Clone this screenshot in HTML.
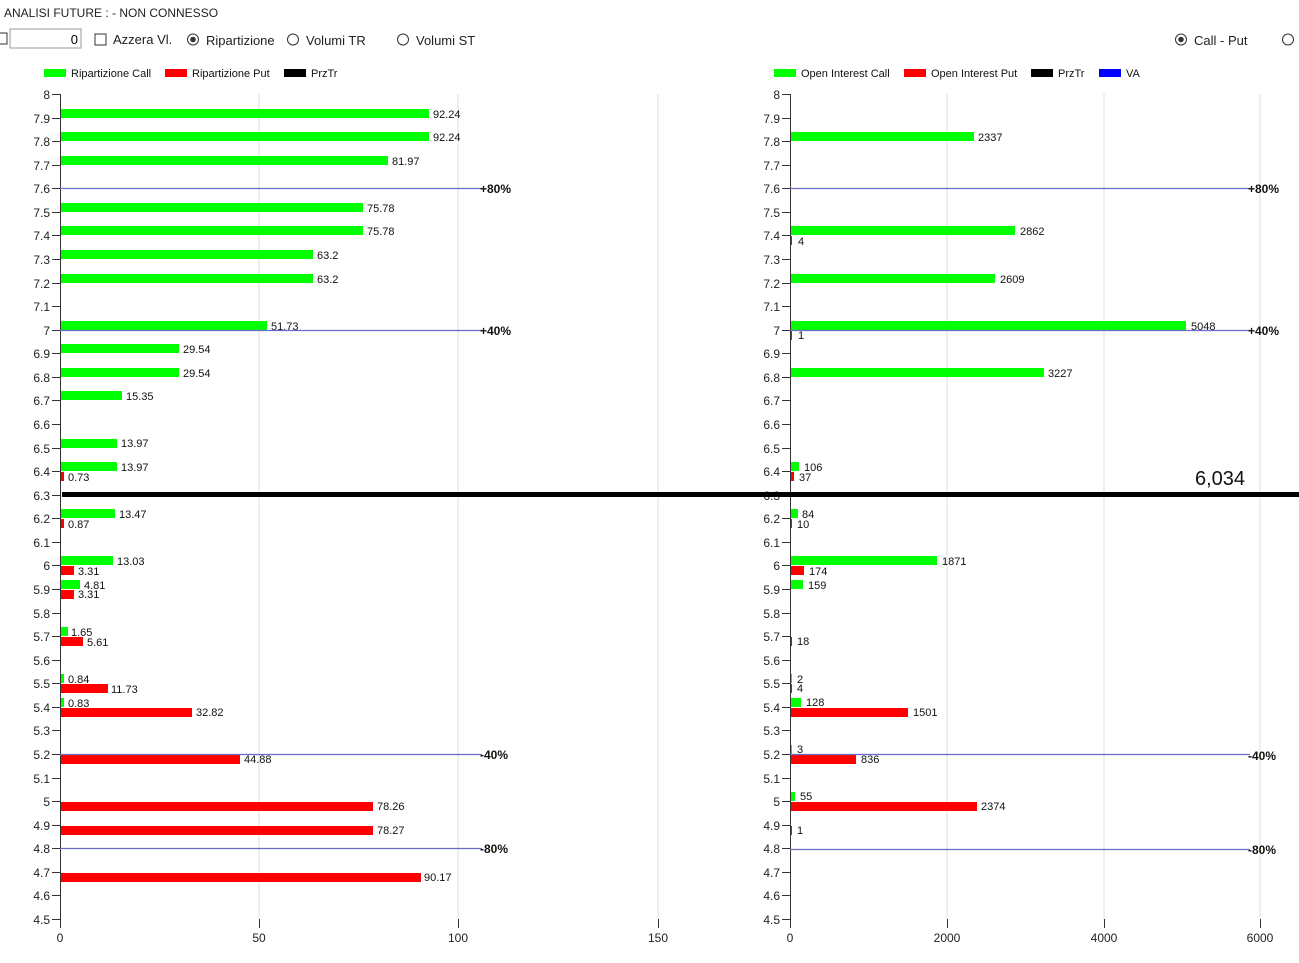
<!DOCTYPE html>
<html><head><meta charset="utf-8"><style>
body{margin:0;background:#fff;width:1299px;height:958px;overflow:hidden;font-family:"Liberation Sans",sans-serif}
svg text{font-family:"Liberation Sans",sans-serif}
</style></head><body>
<svg width="1299" height="958" xmlns="http://www.w3.org/2000/svg">
<rect width="1299" height="958" fill="#fff"/>
<!-- header -->
<text x="4" y="17" font-size="12" fill="#222">ANALISI FUTURE : - NON CONNESSO</text>
<rect x="-4" y="33" width="11" height="11" fill="#fff" stroke="#333"/>
<rect x="10" y="29" width="71" height="19" fill="#fff" stroke="#999"/>
<text x="78" y="44" font-size="13" text-anchor="end">0</text>
<rect x="95" y="34" width="11" height="11" fill="#fff" stroke="#333"/>
<text x="113" y="44" font-size="13" fill="#222">Azzera Vl.</text>
<circle cx="193" cy="39.5" r="5.5" fill="#fff" stroke="#333"/><circle cx="193" cy="39.5" r="2.8" fill="#333"/>
<text x="206" y="45" font-size="13" fill="#222">Ripartizione</text>
<circle cx="293" cy="39.5" r="5.5" fill="#fff" stroke="#333"/>
<text x="306" y="45" font-size="13" fill="#222">Volumi TR</text>
<circle cx="403" cy="39.5" r="5.5" fill="#fff" stroke="#333"/>
<text x="416" y="45" font-size="13" fill="#222">Volumi ST</text>
<circle cx="1181" cy="39.5" r="5.5" fill="#fff" stroke="#333"/><circle cx="1181" cy="39.5" r="2.8" fill="#333"/>
<text x="1194" y="45" font-size="13" fill="#222">Call - Put</text>
<circle cx="1288" cy="39.5" r="5.5" fill="#fff" stroke="#333"/>
<!-- legends -->
<g font-size="11" fill="#111">
<rect x="44" y="69" width="22" height="8" fill="#00ff00"/><text x="71" y="77">Ripartizione Call</text>
<rect x="165" y="69" width="22" height="8" fill="#ff0000"/><text x="192" y="77">Ripartizione Put</text>
<rect x="284" y="69" width="22" height="8" fill="#000"/><text x="311" y="77">PrzTr</text>
<rect x="774" y="69" width="22" height="8" fill="#00ff00"/><text x="801" y="77">Open Interest Call</text>
<rect x="904" y="69" width="22" height="8" fill="#ff0000"/><text x="931" y="77">Open Interest Put</text>
<rect x="1031" y="69" width="22" height="8" fill="#000"/><text x="1058" y="77">PrzTr</text>
<rect x="1099" y="69" width="22" height="8" fill="#0000ff"/><text x="1126" y="77">VA</text>
</g>
<!-- gridlines -->
<g stroke="#dcdcdc" stroke-width="1">
<line x1="259" y1="94" x2="259" y2="919"/><line x1="458" y1="94" x2="458" y2="919"/><line x1="658" y1="94" x2="658" y2="919"/>
<line x1="947" y1="94" x2="947" y2="919"/><line x1="1104" y1="94" x2="1104" y2="919"/><line x1="1260" y1="94" x2="1260" y2="919"/>
</g>
<!-- axes -->
<g stroke="#333" stroke-width="1">
<line x1="60.5" y1="94" x2="60.5" y2="919"/><line x1="790.5" y1="94" x2="790.5" y2="919"/>
<line x1="60.5" y1="919" x2="60.5" y2="928"/><line x1="259.5" y1="919" x2="259.5" y2="928"/><line x1="458.5" y1="919" x2="458.5" y2="928"/><line x1="658.5" y1="919" x2="658.5" y2="928"/>
<line x1="790.5" y1="919" x2="790.5" y2="928"/><line x1="947.5" y1="919" x2="947.5" y2="928"/><line x1="1104.5" y1="919" x2="1104.5" y2="928"/><line x1="1260.5" y1="919" x2="1260.5" y2="928"/>
</g>
<g stroke="#333" stroke-width="1">
<path d="M52 94.5h8M52 118.5h8M52 141.5h8M52 165.5h8M52 188.5h8M52 212.5h8M52 235.5h8M52 259.5h8M52 283.5h8M52 306.5h8M52 330.5h8M52 353.5h8M52 377.5h8M52 400.5h8M52 424.5h8M52 448.5h8M52 471.5h8M52 495.5h8M52 518.5h8M52 542.5h8M52 565.5h8M52 589.5h8M52 613.5h8M52 636.5h8M52 660.5h8M52 683.5h8M52 707.5h8M52 730.5h8M52 754.5h8M52 778.5h8M52 801.5h8M52 825.5h8M52 848.5h8M52 872.5h8M52 895.5h8M52 919.5h8"/>
<path d="M782 94.5h8M782 118.5h8M782 141.5h8M782 165.5h8M782 188.5h8M782 212.5h8M782 235.5h8M782 259.5h8M782 283.5h8M782 306.5h8M782 330.5h8M782 353.5h8M782 377.5h8M782 400.5h8M782 424.5h8M782 448.5h8M782 471.5h8M782 495.5h8M782 518.5h8M782 542.5h8M782 565.5h8M782 589.5h8M782 613.5h8M782 636.5h8M782 660.5h8M782 683.5h8M782 707.5h8M782 730.5h8M782 754.5h8M782 778.5h8M782 801.5h8M782 825.5h8M782 848.5h8M782 872.5h8M782 895.5h8M782 919.5h8"/>
</g>
<g font-size="12" fill="#222" text-anchor="end">
<text x="50" y="99">8</text><text x="50" y="123">7.9</text><text x="50" y="146">7.8</text><text x="50" y="170">7.7</text><text x="50" y="193">7.6</text><text x="50" y="217">7.5</text><text x="50" y="240">7.4</text><text x="50" y="264">7.3</text><text x="50" y="288">7.2</text><text x="50" y="311">7.1</text><text x="50" y="335">7</text><text x="50" y="358">6.9</text><text x="50" y="382">6.8</text><text x="50" y="405">6.7</text><text x="50" y="429">6.6</text><text x="50" y="453">6.5</text><text x="50" y="476">6.4</text><text x="50" y="500">6.3</text><text x="50" y="523">6.2</text><text x="50" y="547">6.1</text><text x="50" y="570">6</text><text x="50" y="594">5.9</text><text x="50" y="618">5.8</text><text x="50" y="641">5.7</text><text x="50" y="665">5.6</text><text x="50" y="688">5.5</text><text x="50" y="712">5.4</text><text x="50" y="735">5.3</text><text x="50" y="759">5.2</text><text x="50" y="783">5.1</text><text x="50" y="806">5</text><text x="50" y="830">4.9</text><text x="50" y="853">4.8</text><text x="50" y="877">4.7</text><text x="50" y="900">4.6</text><text x="50" y="924">4.5</text>
<text x="780" y="99">8</text><text x="780" y="123">7.9</text><text x="780" y="146">7.8</text><text x="780" y="170">7.7</text><text x="780" y="193">7.6</text><text x="780" y="217">7.5</text><text x="780" y="240">7.4</text><text x="780" y="264">7.3</text><text x="780" y="288">7.2</text><text x="780" y="311">7.1</text><text x="780" y="335">7</text><text x="780" y="358">6.9</text><text x="780" y="382">6.8</text><text x="780" y="405">6.7</text><text x="780" y="429">6.6</text><text x="780" y="453">6.5</text><text x="780" y="476">6.4</text><text x="780" y="500">6.3</text><text x="780" y="523">6.2</text><text x="780" y="547">6.1</text><text x="780" y="570">6</text><text x="780" y="594">5.9</text><text x="780" y="618">5.8</text><text x="780" y="641">5.7</text><text x="780" y="665">5.6</text><text x="780" y="688">5.5</text><text x="780" y="712">5.4</text><text x="780" y="735">5.3</text><text x="780" y="759">5.2</text><text x="780" y="783">5.1</text><text x="780" y="806">5</text><text x="780" y="830">4.9</text><text x="780" y="853">4.8</text><text x="780" y="877">4.7</text><text x="780" y="900">4.6</text><text x="780" y="924">4.5</text>
</g>
<g font-size="12" fill="#222" text-anchor="middle">
<text x="60" y="942">0</text><text x="259" y="942">50</text><text x="458" y="942">100</text><text x="658" y="942">150</text>
<text x="790" y="942">0</text><text x="947" y="942">2000</text><text x="1104" y="942">4000</text><text x="1260" y="942">6000</text>
</g>
<!-- left bars -->
<g fill="#00ff00">
<rect x="61" y="109" width="368" height="9"/><rect x="61" y="132" width="368" height="9"/><rect x="61" y="156" width="327" height="9"/>
<rect x="61" y="203" width="302" height="9"/><rect x="61" y="226" width="302" height="9"/><rect x="61" y="250" width="252" height="9"/><rect x="61" y="274" width="252" height="9"/>
<rect x="61" y="321" width="206" height="9"/><rect x="61" y="344" width="118" height="9"/><rect x="61" y="368" width="118" height="9"/><rect x="61" y="391" width="61" height="9"/>
<rect x="61" y="439" width="56" height="9"/><rect x="61" y="462" width="56" height="9"/><rect x="61" y="509" width="54" height="9"/><rect x="61" y="556" width="52" height="9"/>
<rect x="61" y="580" width="19" height="9"/><rect x="61" y="627" width="7" height="9"/><rect x="61" y="674" width="3" height="9"/><rect x="61" y="698" width="3" height="9"/>
</g>
<g fill="#ff0000">
<rect x="61" y="472" width="3" height="9"/><rect x="61" y="519" width="3" height="9"/><rect x="61" y="566" width="13" height="9"/><rect x="61" y="590" width="13" height="9"/>
<rect x="61" y="637" width="22" height="9"/><rect x="61" y="684" width="47" height="9"/><rect x="61" y="708" width="131" height="9"/><rect x="61" y="755" width="179" height="9"/>
<rect x="61" y="802" width="312" height="9"/><rect x="61" y="826" width="312" height="9"/><rect x="61" y="873" width="360" height="9"/>
</g>
<g font-size="11" fill="#111">
<text x="433" y="118">92.24</text><text x="433" y="141">92.24</text><text x="392" y="165">81.97</text><text x="367" y="212">75.78</text><text x="367" y="235">75.78</text><text x="317" y="259">63.2</text><text x="317" y="283">63.2</text>
<text x="271" y="330">51.73</text><text x="183" y="353">29.54</text><text x="183" y="377">29.54</text><text x="126" y="400">15.35</text><text x="121" y="447">13.97</text><text x="121" y="471">13.97</text><text x="68" y="481">0.73</text>
<text x="119" y="518">13.47</text><text x="68" y="528">0.87</text><text x="117" y="565">13.03</text><text x="78" y="575">3.31</text><text x="84" y="589">4.81</text><text x="78" y="598">3.31</text>
<text x="71" y="636">1.65</text><text x="87" y="646">5.61</text><text x="68" y="683">0.84</text><text x="111" y="693">11.73</text><text x="68" y="707">0.83</text><text x="196" y="716">32.82</text>
<text x="244" y="763">44.88</text><text x="377" y="810">78.26</text><text x="377" y="834">78.27</text><text x="424" y="881">90.17</text>
</g>
<!-- right bars -->
<g fill="#00ff00">
<rect x="791" y="132" width="183" height="9"/><rect x="791" y="226" width="224" height="9"/><rect x="791" y="274" width="204" height="9"/><rect x="791" y="321" width="395" height="9"/>
<rect x="791" y="368" width="253" height="9"/><rect x="791" y="462" width="8" height="9"/><rect x="791" y="509" width="7" height="9"/><rect x="791" y="556" width="146" height="9"/>
<rect x="791" y="580" width="12" height="9"/><rect x="791" y="674" width="1" height="9"/><rect x="791" y="698" width="10" height="9"/><rect x="791" y="745" width="1" height="9"/><rect x="791" y="792" width="4" height="9"/>
</g>
<g fill="#ff0000">
<rect x="791" y="236" width="1" height="9"/><rect x="791" y="331" width="1" height="9"/><rect x="791" y="472" width="3" height="9"/><rect x="791" y="519" width="1" height="9"/>
<rect x="791" y="566" width="13" height="9"/><rect x="791" y="637" width="1" height="9"/><rect x="791" y="684" width="1" height="9"/><rect x="791" y="708" width="117" height="9"/>
<rect x="791" y="755" width="65" height="9"/><rect x="791" y="802" width="186" height="9"/><rect x="791" y="826" width="1" height="9"/>
</g>
<g font-size="11" fill="#111">
<text x="978" y="141">2337</text><text x="1020" y="235">2862</text><text x="798" y="245">4</text><text x="1000" y="283">2609</text><text x="1191" y="330">5048</text><text x="798" y="339">1</text>
<text x="1048" y="377">3227</text><text x="804" y="471">106</text><text x="799" y="481">37</text><text x="802" y="518">84</text><text x="797" y="528">10</text>
<text x="942" y="565">1871</text><text x="809" y="575">174</text><text x="808" y="589">159</text><text x="797" y="645">18</text><text x="797" y="683">2</text><text x="797" y="692">4</text>
<text x="806" y="706">128</text><text x="913" y="716">1501</text><text x="797" y="753">3</text><text x="861" y="763">836</text><text x="800" y="800">55</text><text x="981" y="810">2374</text><text x="797" y="834">1</text>
</g>
<!-- VA lines -->
<g stroke="#6b6bc8" stroke-width="1.2">
<line x1="60" y1="188.5" x2="482" y2="188.5"/><line x1="60" y1="330.5" x2="482" y2="330.5"/><line x1="60" y1="754.5" x2="482" y2="754.5"/><line x1="60" y1="848.5" x2="482" y2="848.5"/>
<line x1="790" y1="188.5" x2="1250" y2="188.5"/><line x1="790" y1="330.5" x2="1250" y2="330.5"/><line x1="790" y1="754.5" x2="1250" y2="754.5"/><line x1="790" y1="849.5" x2="1250" y2="849.5"/>
</g>
<g font-size="12" font-weight="bold" fill="#111">
<text x="480" y="193">+80%</text><text x="480" y="335">+40%</text><text x="480" y="759">-40%</text><text x="480" y="853">-80%</text>
<text x="1248" y="193">+80%</text><text x="1248" y="335">+40%</text><text x="1248" y="760">-40%</text><text x="1248" y="854">-80%</text>
</g>
<!-- PrzTr line -->
<rect x="62" y="492" width="1237" height="5" fill="#000"/>
<text x="1195" y="485" font-size="20" fill="#111">6,034</text>
</svg>
</body></html>
